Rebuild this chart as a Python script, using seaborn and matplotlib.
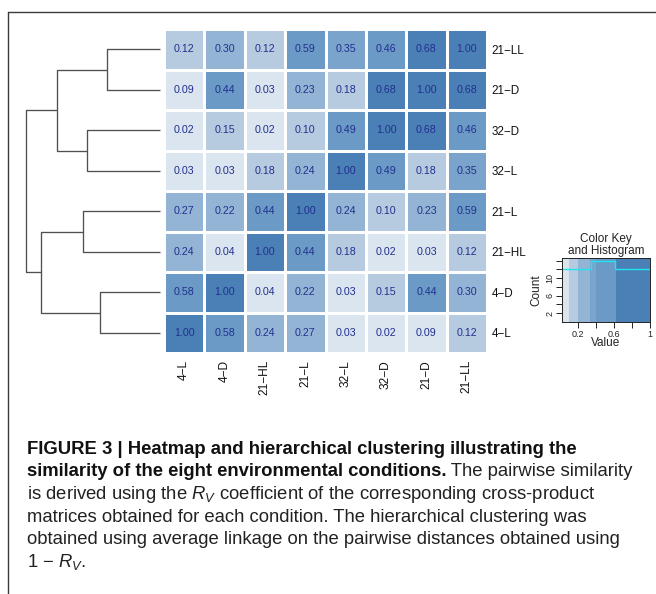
import numpy as np
import pandas as pd
import matplotlib
matplotlib.use("Agg")
import matplotlib.pyplot as plt
from matplotlib.colors import ListedColormap, BoundaryNorm
from matplotlib.lines import Line2D
import seaborn as sns

# ---- data -------------------------------------------------------------
# column order of the heatmap (rows use the reverse order, top to bottom)
conditions = ["4−L", "4−D", "21−HL", "21−L", "32−L", "32−D", "21−D", "21−LL"]

# pairwise RV similarity, one list per condition (columns as above)
rv_4L   = [1.00, 0.58, 0.24, 0.27, 0.03, 0.02, 0.09, 0.12]
rv_4D   = [0.58, 1.00, 0.04, 0.22, 0.03, 0.15, 0.44, 0.30]
rv_21HL = [0.24, 0.04, 1.00, 0.44, 0.18, 0.02, 0.03, 0.12]
rv_21L  = [0.27, 0.22, 0.44, 1.00, 0.24, 0.10, 0.23, 0.59]
rv_32L  = [0.03, 0.03, 0.18, 0.24, 1.00, 0.49, 0.18, 0.35]
rv_32D  = [0.02, 0.15, 0.02, 0.10, 0.49, 1.00, 0.68, 0.46]
rv_21D  = [0.09, 0.44, 0.03, 0.23, 0.18, 0.68, 1.00, 0.68]
rv_21LL = [0.12, 0.30, 0.12, 0.59, 0.35, 0.46, 0.68, 1.00]

# dendrogram (leaves 0..7 = heatmap rows top to bottom, new clusters 8..14)
link_a      = [0, 2, 4, 6, 8, 10, 12]
link_b      = [1, 3, 5, 7, 9, 11, 13]
link_height = [0.37, 0.51, 0.54, 0.42, 0.72, 0.83, 0.94]

# histogram shown in the colour key
key_edges  = [0.02, 0.34, 0.61, 1.00]
key_counts = [12, 14, 12]

# colour scale
level_breaks = [0.0, 0.095, 0.20, 0.33, 0.40, 0.62, 1.01]
level_colors = ["#dbe5ef", "#b7cbe0", "#93b4d4", "#7aa4cb", "#6a9ac5", "#4a80b6"]

# ---- style ------------------------------------------------------------
sns.set_style("white")
plt.rcParams["font.family"] = ["Liberation Sans", "DejaVu Sans"]
plt.rcParams["mathtext.fontset"] = "custom"
plt.rcParams["mathtext.rm"] = "Liberation Sans"
plt.rcParams["mathtext.it"] = "Liberation Sans:italic"
plt.rcParams["mathtext.bf"] = "Liberation Sans:bold"

W, H = 656, 594
fig = plt.figure(figsize=(W / 100, H / 100), dpi=100)
fig.patch.set_facecolor("white")


def box(x0, y0, x1, y1):
    """axes rectangle from pixel edges (origin top-left)"""
    return [x0 / W, 1 - y1 / H, (x1 - x0) / W, (y1 - y0) / H]


row_labels = conditions[::-1]
rows = [rv_21LL, rv_21D, rv_32D, rv_32L, rv_21L, rv_21HL, rv_4D, rv_4L]
df = pd.DataFrame(rows, index=row_labels, columns=conditions)

cmap = ListedColormap(level_colors)
norm = BoundaryNorm(level_breaks, cmap.N)

# ---- heatmap ----------------------------------------------------------
hax = fig.add_axes(box(164, 29, 487, 353))
sns.heatmap(df, ax=hax, cmap=cmap, norm=norm, annot=True, fmt=".2f",
            annot_kws={"size": 7.7, "color": "#22308e"},
            linewidths=2, linecolor="white", cbar=False)
hax.yaxis.tick_right()
hax.tick_params(axis="both", length=0)
hax.tick_params(axis="y", pad=3.5)
hax.tick_params(axis="x", pad=5)
hax.set_yticklabels(row_labels, rotation=0, fontsize=8.4, color="#111111")
hax.set_xticklabels(conditions, rotation=90, fontsize=8.6, color="#111111",
                    va="top")
hax.set_xlabel("")
hax.set_ylabel("")

# ---- row dendrogram ---------------------------------------------------
dax = fig.add_axes(box(20, 29, 160, 353))
ypos = {i: i + 0.5 for i in range(len(row_labels))}
xh = {i: 0.0 for i in range(len(row_labels))}
for k, (a, b, h) in enumerate(zip(link_a, link_b, link_height)):
    ya, yb = ypos[a], ypos[b]
    dax.plot([xh[a], h, h, xh[b]], [ya, ya, yb, yb],
             color="#505050", lw=0.95, solid_capstyle="butt", clip_on=False)
    ypos[len(row_labels) + k] = (ya + yb) / 2
    xh[len(row_labels) + k] = h
dax.set_xlim(0.979, 0)
dax.set_ylim(len(row_labels), 0)
dax.axis("off")

# ---- colour key with histogram ----------------------------------------
kax = fig.add_axes(box(562, 258, 650, 322))
kx = np.linspace(key_edges[0], key_edges[-1], 300)
kax.pcolormesh(kx, [0, 14.6], kx[:-1][None, :], cmap=cmap, norm=norm,
               shading="flat")
kax.step(key_edges, key_counts + key_counts[-1:], where="post",
         color="#1fe3ee", lw=1.0)
kax.set_xlim(key_edges[0], key_edges[-1])
kax.set_ylim(0, 14.6)
kax.set_xticks([0.2, 0.4, 0.6, 0.8, 1.0])
kax.set_xticklabels(["0.2", "", "0.6", "", "1"], fontsize=6.5)
kax.set_yticks([2, 4, 6, 8, 10, 12, 14])
kax.set_yticklabels(["2", "", "6", "", "10", "", ""], fontsize=6.5,
                    rotation=90, va="center")
kax.tick_params(axis="both", length=4, width=0.7, color="#222222",
                direction="out", pad=1.5, labelcolor="#222222")
kax.tick_params(axis="both", which="both", bottom=True, left=True)
for s in kax.spines.values():
    s.set_linewidth(0.7)
    s.set_color("#222222")
kax.set_xlabel("Value", fontsize=8.5, labelpad=-1, color="#222222")
kax.set_ylabel("Count", fontsize=8.5, labelpad=2, color="#222222")
kax.set_title("Color Key\nand Histogram", fontsize=8.5, pad=3,
              linespacing=1.0, color="#222222")

# ---- frame ------------------------------------------------------------
fig.add_artist(Line2D([8 / W, 1], [1 - 12 / H, 1 - 12 / H],
                      color="#3a3a3a", lw=1.0, transform=fig.transFigure))
fig.add_artist(Line2D([8 / W, 8 / W], [1 - 12 / H, 0],
                      color="#3a3a3a", lw=1.0, transform=fig.transFigure))

# ---- caption ----------------------------------------------------------
cap_size = 13.3
cx = 27 / W
base = [454, 476.5, 499, 521.5, 544, 566.5]
fig.text(cx, 1 - base[0] / H,
         "FIGURE 3 | Heatmap and hierarchical clustering illustrating the",
         fontsize=cap_size, fontweight="bold", va="baseline", color="#111111")
bold2 = fig.text(cx, 1 - base[1] / H,
                 "similarity of the eight environmental conditions.",
                 fontsize=cap_size, fontweight="bold", va="baseline",
                 color="#111111")
cap_lines = [
    r"is derived using the $R_V$ coefficient of the corresponding cross-product",
    "matrices obtained for each condition. The hierarchical clustering was",
    "obtained using average linkage on the pairwise distances obtained using",
    r"1 − $R_V$.",
]
for ln, b in zip(cap_lines, base[2:]):
    fig.text(cx, 1 - b / H, ln, fontsize=cap_size, va="baseline",
             color="#222222")

# the regular part of line 2 follows the bold lead-in
fig.canvas.draw()
bb = bold2.get_window_extent(fig.canvas.get_renderer())
fig.text(bb.x1 / fig.bbox.width, 1 - base[1] / H, " The pairwise similarity",
         fontsize=cap_size, va="baseline", color="#222222")

fig.savefig("out.png", dpi=100)
